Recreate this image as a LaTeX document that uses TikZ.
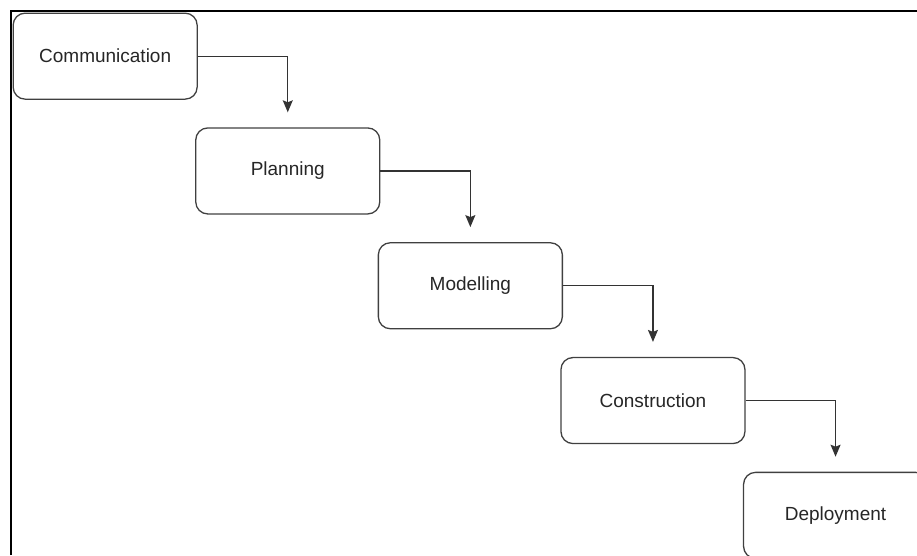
\documentclass[tikz,border=0pt]{standalone}
\usepackage{fontspec}
\setmainfont{Liberation Sans}
\usetikzlibrary{positioning, arrows.meta}
\tikzstyle{arrow} = [line width=1.3pt, draw=black!80, -{Stealth[length=12pt,width=10pt,inset=2pt]}]

\begin{document}
\begin{tikzpicture}[
    x=1pt, y=-1pt,
    phase/.style={draw=black!75, line width=1.3pt, rounded corners=12pt,
      minimum width=184pt, minimum height=86pt, inner sep=0pt,
      font=\fontsize{19}{23}\selectfont, text=black!85},
    stagger/.style={below right=27.5pt and -2.7pt of #1},
  ]
  \useasboundingbox (0,0) rectangle (917,555);
  % page frame
  \draw[line width=2pt] (11,555) -- (11,11) -- (917,11);

  \node[phase, anchor=north west] (comm) at (12.5,12.5) {Communication};
  \node[phase, stagger=comm] (plan) {Planning};
  \node[phase, stagger=plan] (model) {Modelling};
  \node[phase, stagger=model] (cons) {Construction};
  \node[phase, stagger=cons] (deploy) {Deployment};

  \foreach \a/\b in {comm/plan, plan/model, model/cons, cons/deploy}
    \draw[arrow, shorten >=15pt] (\a.east) -| (\b.north);
\end{tikzpicture}
\end{document}
